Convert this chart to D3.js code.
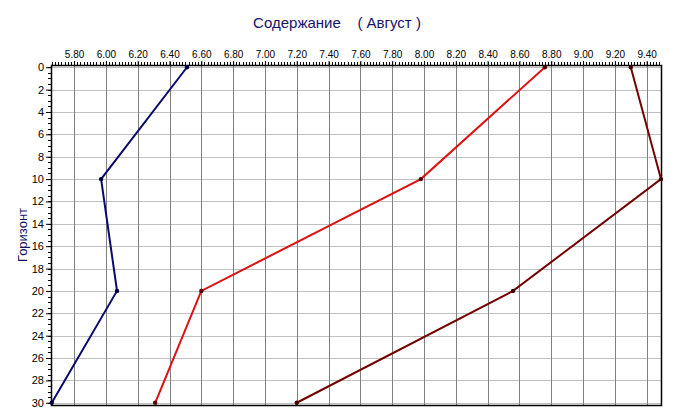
<!DOCTYPE html>
<html><head><meta charset="utf-8">
<script src="https://cdn.jsdelivr.net/npm/d3@7"></script>
<style>
html,body{margin:0;padding:0;background:#fff;}
svg{display:block;}
</style></head>
<body>
<script>
const title = "Содержание    ( Август )";
const yTitle = "Горизонт";
const depths = [0, 10, 20, 30];
const seriesNavy = [6.51, 5.97, 6.07, 5.66];
const seriesRed = [8.76, 7.98, 6.60, 6.31];
const seriesMaroon = [9.30, 9.49, 8.56, 7.20];
const xTickValues = [5.8,6.0,6.2,6.4,6.6,6.8,7.0,7.2,7.4,7.6,7.8,8.0,8.2,8.4,8.6,8.8,9.0,9.2,9.4];
const yTickValues = [0,2,4,6,8,10,12,14,16,18,20,22,24,26,28,30];

const W = 675, H = 419;
const L = 51, R = 661, T = 65, B = 405;
const svg = d3.select("body").append("svg").attr("width", W).attr("height", H);

const x = d3.scaleLinear().domain([5.655, 9.49]).range([L, R]);
const y = d3.scaleLinear().domain([-0.2, 30.2]).range([T, B]);

// gridlines
svg.append("g").selectAll("line").data(yTickValues).join("line")
  .attr("x1", L).attr("x2", R)
  .attr("y1", d => Math.round(y(d)) + 0.5).attr("y2", d => Math.round(y(d)) + 0.5)
  .attr("stroke", "#c0c0c0").attr("stroke-width", 1);
svg.append("g").selectAll("line").data(xTickValues).join("line")
  .attr("y1", T).attr("y2", B)
  .attr("x1", d => Math.round(x(d)) + 0.5).attr("x2", d => Math.round(x(d)) + 0.5)
  .attr("stroke", "#808080").attr("stroke-width", 1);

// top axis minor ticks
const xMinor = d3.range(5.66, 9.49, 0.02);
svg.append("g").selectAll("line").data(xMinor).join("line")
  .attr("x1", d => Math.round(x(d)) + 0.5).attr("x2", d => Math.round(x(d)) + 0.5)
  .attr("y1", T - 3).attr("y2", T)
  .attr("stroke", "#000").attr("stroke-width", 1);

// top axis
const xAxis = d3.axisTop(x).tickValues(xTickValues).tickFormat(d3.format(".2f")).tickSize(4).tickPadding(3);
const gx = svg.append("g").attr("transform", `translate(0,${T})`).call(xAxis);
gx.select(".domain").remove();
gx.selectAll("text").attr("font-family", "Liberation Sans, Arial, sans-serif").attr("font-size", 10).attr("fill", "#000");

// left axis minor ticks
const yMinor = d3.range(0, 30.01, 0.5);
svg.append("g").selectAll("line").data(yMinor).join("line")
  .attr("x1", L - 3).attr("x2", L)
  .attr("y1", d => Math.round(y(d)) + 0.5).attr("y2", d => Math.round(y(d)) + 0.5)
  .attr("stroke", "#000").attr("stroke-width", 1);

const yAxis = d3.axisLeft(y).tickValues(yTickValues).tickFormat(d3.format("d")).tickSize(5).tickPadding(2);
const gy = svg.append("g").attr("transform", `translate(${L},0)`).call(yAxis);
gy.select(".domain").remove();
gy.selectAll("text").attr("font-family", "Liberation Sans, Arial, sans-serif").attr("font-size", 11).attr("fill", "#000");

// frame
svg.append("rect").attr("x", L + 0.5).attr("y", T + 0.5).attr("width", R - L).attr("height", B - T)
  .attr("fill", "none").attr("stroke", "#000").attr("stroke-width", 1.5);

// series
const seriesList = [
  {vals: seriesNavy, color: "#0a0a6a", marker: "#000040"},
  {vals: seriesRed, color: "#dd1111", marker: "#500000"},
  {vals: seriesMaroon, color: "#730000", marker: "#400000"}
];
const line = d3.line().x(d => x(d[0])).y(d => y(d[1]));
seriesList.forEach(s => {
  const pts = s.vals.map((v, i) => [v, depths[i]]);
  svg.append("path").datum(pts).attr("d", line)
    .attr("fill", "none").attr("stroke", s.color).attr("stroke-width", 2);
  svg.append("g").selectAll("circle").data(pts).join("circle")
    .attr("cx", d => x(d[0])).attr("cy", d => y(d[1])).attr("r", 2.2)
    .attr("fill", s.marker);
});

// titles
svg.append("text").attr("x", 337).attr("y", 28).attr("text-anchor", "middle")
  .attr("font-family", "Liberation Sans, Arial, sans-serif").attr("font-size", 15)
  .attr("fill", "#141466").attr("xml:space", "preserve").style("white-space", "pre").text(title);
svg.append("text").attr("transform", "translate(27,235) rotate(-90)").attr("text-anchor", "middle")
  .attr("font-family", "Liberation Sans, Arial, sans-serif").attr("font-size", 13)
  .attr("fill", "#141466").text(yTitle);
</script>
</body></html>
